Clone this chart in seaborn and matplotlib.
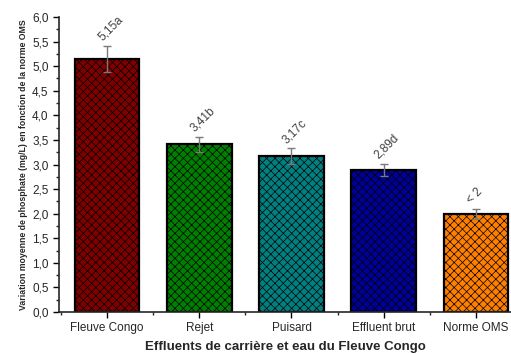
import matplotlib
matplotlib.use("Agg")
import matplotlib.pyplot as plt
import seaborn as sns
import numpy as np
from matplotlib.ticker import MultipleLocator, FuncFormatter, FixedLocator

categories = ["Fleuve Congo", "Rejet", "Puisard", "Effluent brut", "Norme OMS"]
values = [5.15, 3.41, 3.17, 2.89, 2.00]
errors = [0.26, 0.15, 0.16, 0.13, 0.10]
value_labels = ["5,15a", "3,41b", "3,17c", "2,89d", "< 2"]
colors = ["#800000", "#008000", "#008080", "#000099", "#FF8000"]

sns.set_style("ticks")
plt.rcParams["font.family"] = ["Liberation Sans", "DejaVu Sans"]
plt.rcParams["hatch.color"] = "black"
plt.rcParams["hatch.linewidth"] = 0.5

fig = plt.figure(figsize=(5.11, 3.54), dpi=100)
ax = fig.add_axes([0.1155, 0.1186, 0.8845, 0.8334])

sns.barplot(x=categories, y=values, hue=categories, palette=colors,
            saturation=1, legend=False, width=0.7, edgecolor="black",
            linewidth=1.6, errorbar=None, ax=ax)
for p in ax.patches:
    p.set_hatch("xxxx")

xpos = np.arange(len(categories))
ax.errorbar(xpos, values, yerr=errors, fmt="none", ecolor="#7a7a7a",
            elinewidth=1.0, capsize=3, capthick=1.0, zorder=5)

for x, v, e, lab in zip(xpos, values, errors, value_labels):
    ax.text(x - 0.03, v + e + 0.05, lab, rotation=45, ha="left", va="bottom",
            fontsize=8.5, color="#404040", rotation_mode="anchor")

ax.set_ylim(0, 6.0)
ax.set_xlim(-0.52, 4.38)
ax.yaxis.set_major_locator(MultipleLocator(0.5))
ax.yaxis.set_minor_locator(MultipleLocator(0.25))
ax.yaxis.set_major_formatter(FuncFormatter(lambda v, p: f"{v:.1f}".replace(".", ",")))
ax.xaxis.set_minor_locator(FixedLocator(np.arange(-0.5, 4.6, 1.0)))

ax.tick_params(axis="both", which="major", direction="out", length=4, width=1,
               labelsize=8.5, color="black")
ax.tick_params(axis="both", which="minor", direction="out", length=2, width=1)
for s in ["left", "bottom"]:
    ax.spines[s].set_linewidth(1.2)
sns.despine(ax=ax)

ax.set_xlabel("Effluents de carrière et eau du Fleuve Congo", fontsize=9.5,
              fontweight="bold", labelpad=5)
ax.set_ylabel("Variation moyenne de phosphate (mg/L) en fonction de la norme OMS",
              fontsize=6.3, fontweight="bold", labelpad=3)

fig.savefig("out.png", dpi=100)
